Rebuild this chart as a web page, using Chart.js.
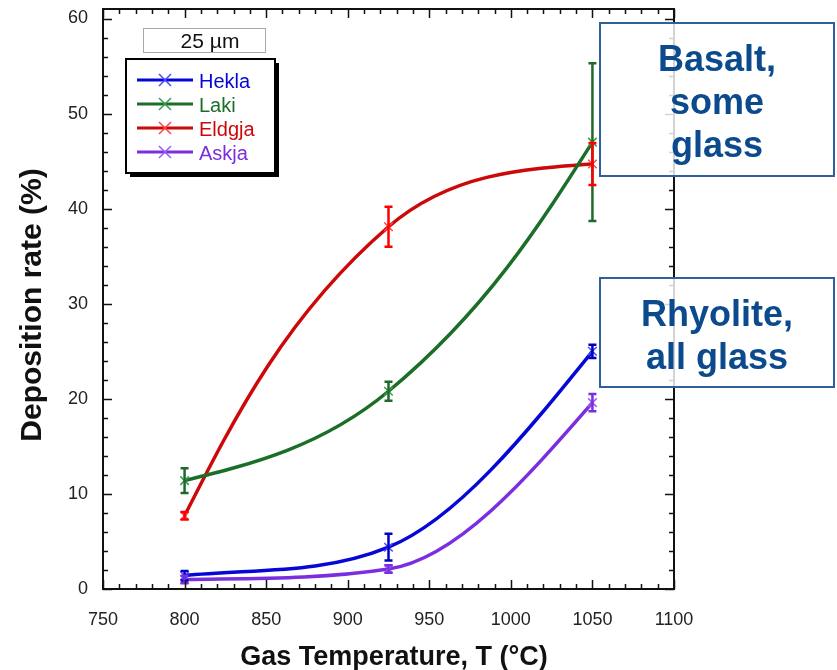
<!DOCTYPE html>
<html lang="en">
<head>
    <meta charset="UTF-8">
    <title>Deposition rate vs gas temperature</title>
    <script src="https://cdn.jsdelivr.net/npm/chart.js"></script>
</head>
<script>
    // data
    let temps = [800, 925, 1050];
    let seriesNames = ["Hekla", "Laki", "Eldgja", "Askja"];
    let heklaRate = [1.4, 4.4, 25.0];
    let heklaErr = [0.5, 1.4, 0.7];
    let lakiRate = [11.4, 20.8, 47.0];
    let lakiErr = [1.3, 1.0, 8.3];
    let eldgjaRate = [7.7, 38.1, 44.7];
    let eldgjaErr = [0.4, 2.1, 2.2];
    let askjaRate = [1.0, 2.1, 19.6];
    let askjaErr = [0.4, 0.4, 0.9];
    let xTicks = [750, 800, 850, 900, 950, 1000, 1050, 1100];
    let yTicks = [0, 10, 20, 30, 40, 50, 60];

    let lineColors = ["#0606d6", "#1b6e27", "#cc0808", "#7a2ee0"];
    let markColors = ["#4c4cff", "#3f9a50", "#ff4646", "#9a5cf2"];
    let errColors = ["#0000c0", "#1f6a2a", "#ff0000", "#7a2ee0"];

    // mode: 'monotone' keeps the low curves from dipping, ends: which ends get no bend
    function makeSet(i, values, errs, mode, ends) {
        return {
            label: seriesNames[i],
            data: temps.map(function(t, k) { return {x: t, y: values[k]}; }),
            errs: errs,
            errColor: errColors[i],
            naturalEnds: ends,
            cubicInterpolationMode: mode,
            borderColor: lineColors[i],
            borderWidth: 3.5,
            tension: 0.4,
            pointStyle: 'crossRot',
            pointRadius: 6,
            pointBorderWidth: 1.5,
            pointBorderColor: markColors[i],
            pointBackgroundColor: markColors[i],
            fill: false
        };
    }

    let naturalEnds = {
        id: 'naturalEnds',
        beforeDatasetDraw: function(chart, args) {
            let ds = chart.data.datasets[args.index];
            if (!ds.naturalEnds) return;
            args.meta.dataset.updateControlPoints(chart.chartArea, 'x');
            let pts = args.meta.data;
            let n = pts.length;
            if (ds.naturalEnds === 'both') {
                let a = pts[0], b = pts[1];
                a.cp2x = (a.x + b.cp1x) / 2;
                a.cp2y = (a.y + b.cp1y) / 2;
            }
            let z = pts[n - 1], y = pts[n - 2];
            z.cp1x = (z.x + y.cp2x) / 2;
            z.cp1y = (z.y + y.cp2y) / 2;
        }
    };

    let errorBars = {
        id: 'errorBars',
        afterDatasetsDraw: function(chart) {
            let ctx = chart.ctx;
            let xs = chart.scales.x, ys = chart.scales.y;
            ctx.save();
            chart.data.datasets.forEach(function(ds) {
                ctx.strokeStyle = ds.errColor;
                ctx.lineWidth = 2.5;
                ds.data.forEach(function(p, k) {
                    let px = xs.getPixelForValue(p.x);
                    let top = ys.getPixelForValue(p.y + ds.errs[k]);
                    let bot = ys.getPixelForValue(p.y - ds.errs[k]);
                    ctx.beginPath();
                    ctx.moveTo(px, top); ctx.lineTo(px, bot);
                    ctx.moveTo(px - 4, top); ctx.lineTo(px + 4, top);
                    ctx.moveTo(px - 4, bot); ctx.lineTo(px + 4, bot);
                    ctx.stroke();
                });
            });
            ctx.restore();
        }
    };

    let frame = {
        id: 'frame',
        afterDraw: function(chart) {
            let ctx = chart.ctx;
            let a = chart.chartArea;
            let xs = chart.scales.x, ys = chart.scales.y;
            ctx.save();
            ctx.strokeStyle = "#111";
            ctx.lineWidth = 1.5;
            ctx.beginPath();
            // x ticks every 10, long every 50
            for (let v = 750; v <= 1100; v += 10) {
                let px = Math.round(xs.getPixelForValue(v)) + 0.5;
                let len = (v % 50 === 0) ? 9 : 5;
                ctx.moveTo(px, a.bottom); ctx.lineTo(px, a.bottom - len);
                ctx.moveTo(px, a.top); ctx.lineTo(px, a.top + len);
            }
            // y ticks every 2, long every 10
            for (let v = 0; v <= 60; v += 2) {
                let py = Math.round(ys.getPixelForValue(v)) + 0.5;
                let len = (v % 10 === 0) ? 9 : 5;
                ctx.moveTo(a.left, py); ctx.lineTo(a.left + len, py);
                ctx.moveTo(a.right, py); ctx.lineTo(a.right - len, py);
            }
            ctx.stroke();
            ctx.lineWidth = 2;
            ctx.strokeRect(a.left, a.top, a.right - a.left, a.bottom - a.top);

            // axis titles
            ctx.fillStyle = "#111";
            ctx.font = "bold 27px Arial, 'Liberation Sans'";
            ctx.textAlign = "center";
            ctx.textBaseline = "middle";
            ctx.fillText("Gas Temperature, T (°C)", 394, 658);
            ctx.translate(33, 305);
            ctx.rotate(-Math.PI / 2);
            ctx.font = "bold 30px Arial, 'Liberation Sans'";
            ctx.fillText("Deposition rate (%)", 0, 0);
            ctx.restore();

            // legend
            ctx.save();
            ctx.fillStyle = "#000";
            ctx.fillRect(130, 63, 149, 114);
            ctx.fillStyle = "#fff";
            ctx.fillRect(126, 59, 149, 114);
            ctx.strokeStyle = "#000";
            ctx.lineWidth = 2;
            ctx.strokeRect(126, 59, 149, 114);
            ctx.fillStyle = "#fff";
            ctx.fillRect(143.5, 28.5, 122, 24);
            ctx.strokeStyle = "#aaa";
            ctx.lineWidth = 1;
            ctx.strokeRect(143.5, 28.5, 122, 24);
            ctx.fillStyle = "#111";
            ctx.font = "21px Arial, 'Liberation Sans'";
            ctx.textAlign = "center";
            ctx.textBaseline = "alphabetic";
            ctx.fillText("25 µm", 210, 48);
            ctx.textAlign = "left";
            ctx.font = "20px Arial, 'Liberation Sans'";
            chart.data.datasets.forEach(function(ds, i) {
                let y = 80 + i * 24;
                ctx.strokeStyle = ds.borderColor;
                ctx.lineWidth = 3;
                ctx.beginPath();
                ctx.moveTo(137, y); ctx.lineTo(193, y);
                ctx.stroke();
                ctx.strokeStyle = ds.pointBorderColor;
                ctx.lineWidth = 1.5;
                ctx.beginPath();
                ctx.moveTo(159, y - 6); ctx.lineTo(171, y + 6);
                ctx.moveTo(159, y + 6); ctx.lineTo(171, y - 6);
                ctx.stroke();
                ctx.fillStyle = ds.borderColor;
                ctx.fillText(ds.label, 199, y + 8);
            });
            ctx.restore();
        }
    };

    function drawChart() {
        let ctx = document.getElementById("depChart");
        let tickFont = { size: 18, family: "Arial, 'Liberation Sans'" };
        new Chart(ctx, {
            type: 'line',
            data: {
                datasets: [
                    makeSet(0, heklaRate, heklaErr, 'monotone', 'last'),
                    makeSet(1, lakiRate, lakiErr, 'default', 'both'),
                    makeSet(2, eldgjaRate, eldgjaErr, 'default', 'both'),
                    makeSet(3, askjaRate, askjaErr, 'monotone', 'last')
                ]
            },
            options: {
                responsive: false,
                animation: false,
                layout: { padding: { top: 9, right: 163, left: 0, bottom: 0 } },
                plugins: {
                    legend: { display: false },
                    tooltip: { enabled: false }
                },
                scales: {
                    x: {
                        type: 'linear',
                        min: 750,
                        max: 1100,
                        afterBuildTicks: function(s) { s.ticks = xTicks.map(function(v) { return {value: v}; }); },
                        afterFit: function(s) { s.height = 81; s.paddingLeft = 0; s.paddingRight = 0; },
                        grid: { display: false, drawTicks: false },
                        border: { display: false },
                        ticks: { padding: 20, color: "#222", font: tickFont, callback: function(v) { return String(v); } }
                    },
                    y: {
                        min: 0,
                        max: 61,
                        afterBuildTicks: function(s) { s.ticks = yTicks.map(function(v) { return {value: v}; }); },
                        afterFit: function(s) { s.width = 103; s.paddingTop = 0; s.paddingBottom = 0; },
                        grid: { display: false, drawTicks: false },
                        border: { display: false },
                        ticks: { padding: 15, color: "#222", font: tickFont, callback: function(v) { return String(v); } }
                    }
                }
            },
            plugins: [naturalEnds, errorBars, frame]
        });
    }

    window.onload = drawChart;
</script>
<style>
    body { margin: 0; background: #fff; }
    .wrap { position: relative; width: 837px; height: 670px; }
    .note {
        position: absolute;
        left: 599px;
        width: 236px;
        box-sizing: border-box;
        background: rgba(255, 255, 255, 0.82);
        border: 2px solid #2f609c;
        color: #0b4a8c;
        font: bold 36px Arial, 'Liberation Sans', sans-serif;
        line-height: 43px;
        text-align: center;
        padding-top: 13px;
    }
</style>
<body>
    <div class="wrap">
        <canvas id="depChart" width="837" height="670"></canvas>
        <div class="note" style="top: 22px; height: 155px;">Basalt,<br>some<br>glass</div>
        <div class="note" style="top: 277px; height: 111px;">Rhyolite,<br>all glass</div>
    </div>
</body>
</html>
